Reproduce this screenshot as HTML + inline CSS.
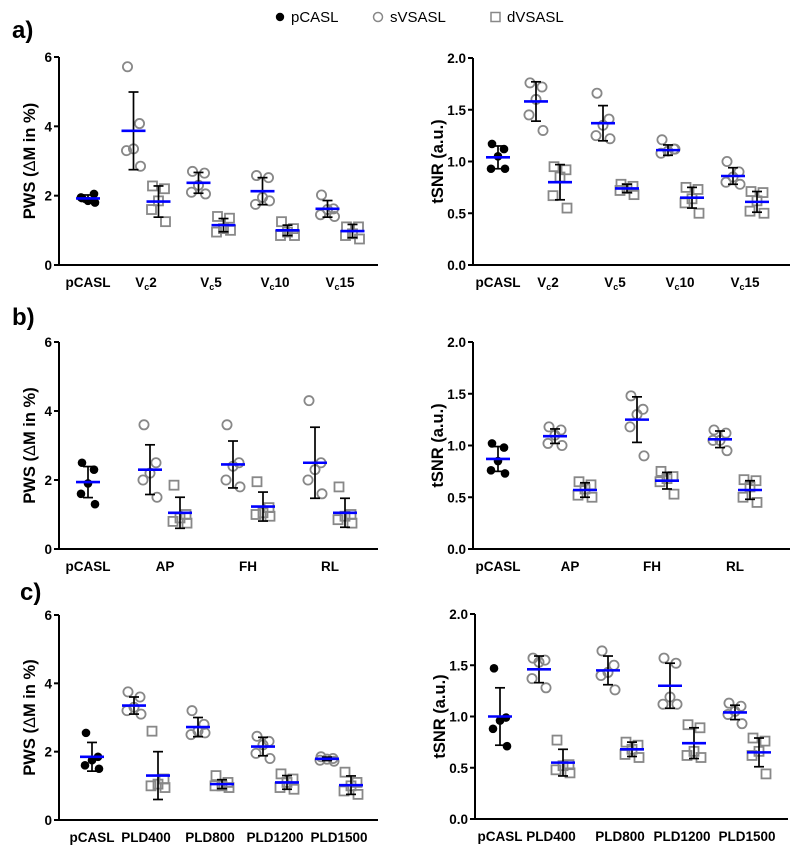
<!DOCTYPE html>
<html><head><meta charset="utf-8">
<style>
html,body{margin:0;padding:0;background:#fff;}
svg{display:block;font-family:"Liberation Sans",Arial,sans-serif;}
</style></head>
<body>
<svg id="fig" width="799" height="854" viewBox="0 0 799 854">
  <g>
    <g><circle cx="280" cy="17" r="4.2" fill="#000"/><text x="291" y="22" font-size="15">pCASL</text></g>
    <g><circle cx="378" cy="17" r="4.5" fill="none" stroke="#888" stroke-width="1.5"/><text x="390" y="22" font-size="15">sVSASL</text></g>
    <g><rect x="491" y="12.5" width="9" height="9" fill="none" stroke="#888" stroke-width="1.5"/><text x="507" y="22" font-size="15">dVSASL</text></g>
  </g>
  <text x="12" y="38" font-size="24" font-weight="bold">a)</text>
  <text x="12" y="325" font-size="24" font-weight="bold">b)</text>
  <text x="20" y="600" font-size="24" font-weight="bold">c)</text>
</svg>
<script>
// ---- data ----
const catsA = ["pCASL","Vc2","Vc5","Vc10","Vc15"];
const catsB = ["pCASL","AP","FH","RL"];
const catsC = ["pCASL","PLD400","PLD800","PLD1200","PLD1500"];
const ticksPWS = [0,2,4,6];
const ticksSNR = [0,0.5,1.0,1.5,2.0];

// panel a left (PWS)
const aL_p = [1.93,2.05,1.85,1.95,1.8];
const aL_s = [[5.72,4.08,3.35,3.3,2.85],[2.7,2.65,2.3,2.1,2.05],[2.58,2.52,1.95,1.75,1.85],[2.02,1.62,1.6,1.45,1.4]];
const aL_d = [[2.28,2.2,1.85,1.6,1.25],[1.4,1.35,1.05,0.95,1.0],[1.25,1.05,0.95,0.85,0.85],[1.1,1.1,0.9,0.85,0.75]];
const aL_mean = [1.92,3.87,1.83,2.37,1.15,2.13,1.0,1.62,0.98];
const aL_sd = [0.1,1.12,0.45,0.3,0.19,0.39,0.15,0.24,0.19];
// panel a right (tSNR)
const aR_p = [1.17,1.12,1.05,0.93,0.93];
const aR_s = [[1.76,1.72,1.6,1.45,1.3],[1.66,1.41,1.35,1.25,1.22],[1.21,1.12,1.1,1.08,1.12],[1.0,0.9,0.85,0.8,0.78]];
const aR_d = [[0.95,0.92,0.85,0.67,0.55],[0.78,0.76,0.74,0.72,0.68],[0.75,0.73,0.64,0.6,0.5],[0.71,0.7,0.62,0.52,0.5]];
const aR_mean = [1.04,1.58,0.8,1.37,0.74,1.11,0.65,0.86,0.61];
const aR_sd = [0.11,0.19,0.17,0.17,0.04,0.05,0.1,0.08,0.1];
// panel b left
const bL_p = [2.5,2.3,1.9,1.6,1.3];
const bL_s = [[3.6,2.5,2.2,2.0,1.5],[3.6,2.5,2.4,2.0,1.8],[4.3,2.5,2.3,2.0,1.6]];
const bL_d = [[1.85,1.0,0.9,0.8,0.75],[1.95,1.2,1.05,1.0,0.95],[1.8,1.0,0.95,0.85,0.75]];
const bL_mean = [1.94,2.3,1.05,2.45,1.23,2.5,1.05];
const bL_sd = [0.45,0.72,0.45,0.68,0.42,1.03,0.42];
// panel b right
const bR_p = [1.02,0.98,0.85,0.76,0.73];
const bR_s = [[1.18,1.15,1.1,1.02,1.0],[1.48,1.35,1.3,1.18,0.9],[1.15,1.12,1.05,1.05,0.95]];
const bR_d = [[0.65,0.62,0.58,0.52,0.5],[0.75,0.7,0.68,0.65,0.53],[0.67,0.66,0.6,0.5,0.45]];
const bR_mean = [0.87,1.09,0.57,1.25,0.66,1.06,0.57];
const bR_sd = [0.12,0.07,0.07,0.22,0.08,0.08,0.09];
// panel c left
const cL_p = [2.55,1.85,1.75,1.6,1.5];
const cL_s = [[3.75,3.6,3.3,3.2,3.1],[3.2,2.8,2.6,2.5,2.55],[2.45,2.3,2.2,1.95,1.8],[1.85,1.8,1.78,1.75,1.72]];
const cL_d = [[2.6,1.2,1.05,1.0,0.95],[1.3,1.1,1.0,1.0,0.95],[1.35,1.2,1.1,0.95,0.9],[1.4,1.1,1.0,0.85,0.75]];
const cL_mean = [1.85,3.35,1.3,2.72,1.05,2.15,1.1,1.79,1.02];
const cL_sd = [0.42,0.25,0.7,0.28,0.13,0.27,0.2,0.05,0.27];
// panel c right
const cR_p = [1.47,0.99,0.96,0.88,0.71];
const cR_s = [[1.57,1.55,1.53,1.37,1.28],[1.64,1.5,1.43,1.4,1.26],[1.57,1.52,1.19,1.12,1.12],[1.13,1.1,1.05,1.02,0.93]];
const cR_d = [[0.77,0.53,0.52,0.48,0.45],[0.75,0.72,0.68,0.63,0.6],[0.92,0.89,0.66,0.62,0.6],[0.79,0.76,0.66,0.62,0.44]];
const cR_mean = [1.0,1.46,0.55,1.45,0.68,1.3,0.74,1.04,0.65];
const cR_sd = [0.28,0.13,0.13,0.14,0.07,0.22,0.15,0.07,0.14];

// ---- layout (geometry only) ----
const NS = "http://www.w3.org/2000/svg";
const svg = document.getElementById("fig");
const jitter = [-6,6,0,-7,7];
function mk(tag, attrs, parent){
  const e = document.createElementNS(NS, tag);
  for (const k in attrs) e.setAttribute(k, attrs[k]);
  parent.appendChild(e);
  return e;
}
function panel(name, g){
  const grp = mk("g", {}, svg);
  
  
  const y = v => g.y0 - (v - 0) / g.ymax * (g.y0 - g.y1);
  const x = (ci, s) => g.centers[ci] + (ci === 0 ? 0 : (s === 0 ? -g.off : g.off));
  const ax = mk("g", {stroke:"#000","stroke-width":"2",fill:"none"}, grp);
  
  
  mk("line", {x1:g.ax, y1:g.y1, x2:g.ax, y2:g.y0}, ax);
  mk("line", {x1:g.ax, y1:g.y0, x2:g.xend, y2:g.y0}, ax);
  g.ticks.forEach(t => {
    mk("line", {x1:g.ax-5, y1:y(t), x2:g.ax, y2:y(t)}, ax);
    const tl = mk("text", {x:g.ax-7, y:y(t)+5, "font-size":"13.5","font-weight":"bold","text-anchor":"end"}, grp);
    
    
    tl.textContent = g.dec ? t.toFixed(1) : String(t);
  });
  const yl = mk("text", {x:0, y:0, "font-size":"16.5","font-weight":"bold","text-anchor":"middle",
    transform:`translate(${g.ylx},${(g.y0+g.y1)/2}) rotate(-90)`}, grp);
  
  
  if (g.dec) yl.textContent = "tSNR (a.u.)";
  else yl.innerHTML = 'PWS (<tspan font-weight="normal">Δ</tspan>M in %)';
  g.cats.forEach((c, ci) => {
    const t = mk("text", {x:g.centers[ci], y:g.y0+22, "font-size":"13.5","font-weight":"bold","text-anchor":"middle"}, grp);
    
    
    if (c.startsWith("Vc")) t.innerHTML = 'V<tspan font-size="9" dy="3">c</tspan><tspan dy="-3">' + c.slice(2) + '</tspan>';
    else t.textContent = c;
  });
  const groups = [{ci:0, s:-1, pts:g.p}];
  g.s.forEach((pts, i) => { groups.push({ci:i+1, s:0, pts}); groups.push({ci:i+1, s:1, pts:g.d[i]}); });
  groups.forEach((gr, gi) => {
    const cx = x(gr.ci, gr.s);
    const gg = mk("g", {}, grp);
    
    
    gr.pts.forEach((v, pi) => {
      const px = cx + jitter[pi];
      let m;
      if (gr.s === -1) m = mk("circle", {cx:px, cy:y(v), r:4.3, fill:"#000"}, gg);
      else if (gr.s === 0) m = mk("circle", {cx:px, cy:y(v), r:4.6, fill:"none", stroke:"#888","stroke-width":"1.8"}, gg);
      else m = mk("rect", {x:px-4.5, y:y(v)-4.5, width:9, height:9, fill:"none", stroke:"#888","stroke-width":"1.8"}, gg);
      
      
    });
    const mu = g.mean[gi], sd = g.sd[gi];
    const eb = mk("g", {stroke:"#000","stroke-width":"1.7"}, gg);
    
    
    mk("line", {x1:cx, y1:y(mu+sd), x2:cx, y2:y(mu-sd)}, eb);
    mk("line", {x1:cx-5, y1:y(mu+sd), x2:cx+5, y2:y(mu+sd)}, eb);
    mk("line", {x1:cx-5, y1:y(mu-sd), x2:cx+5, y2:y(mu-sd)}, eb);
    const ml = mk("line", {x1:cx-12, y1:y(mu), x2:cx+12, y2:y(mu), stroke:"#0000ff","stroke-width":"2.6"}, gg);
    
    
  });
}
panel("panel-a-pws", {cats:catsA, ticks:ticksPWS, ymax:6, dec:false, y0:265, y1:57, ax:59, xend:378, ylx:35,
  centers:[88,146,211,275,340], off:12.5, p:aL_p, s:aL_s, d:aL_d, mean:aL_mean, sd:aL_sd});
panel("panel-a-tsnr", {cats:catsA, ticks:ticksSNR, ymax:2, dec:true, y0:265, y1:58, ax:473, xend:790, ylx:443,
  centers:[498,548,615,680,745], off:12, p:aR_p, s:aR_s, d:aR_d, mean:aR_mean, sd:aR_sd});
panel("panel-b-pws", {cats:catsB, ticks:ticksPWS, ymax:6, dec:false, y0:549, y1:342, ax:59, xend:378, ylx:35,
  centers:[88,165,248,330], off:15, p:bL_p, s:bL_s, d:bL_d, mean:bL_mean, sd:bL_sd});
panel("panel-b-tsnr", {cats:catsB, ticks:ticksSNR, ymax:2, dec:true, y0:549, y1:342, ax:473, xend:790, ylx:443,
  centers:[498,570,652,735], off:15, p:bR_p, s:bR_s, d:bR_d, mean:bR_mean, sd:bR_sd});
panel("panel-c-pws", {cats:catsC, ticks:ticksPWS, ymax:6, dec:false, y0:820, y1:615, ax:59, xend:378, ylx:35,
  centers:[92,146,210,275,339], off:12, p:cL_p, s:cL_s, d:cL_d, mean:cL_mean, sd:cL_sd});
panel("panel-c-tsnr", {cats:catsC, ticks:ticksSNR, ymax:2, dec:true, y0:819, y1:614, ax:475, xend:788, ylx:445,
  centers:[500,551,620,682,747], off:12, p:cR_p, s:cR_s, d:cR_d, mean:cR_mean, sd:cR_sd});
</script>
</body></html>
